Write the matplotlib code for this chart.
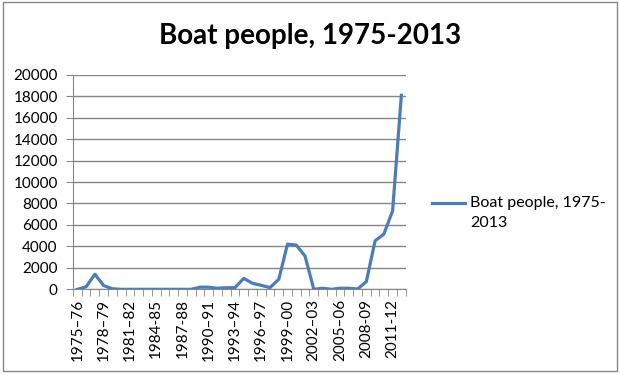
import matplotlib
matplotlib.use('Agg')
import matplotlib.pyplot as plt
from matplotlib.lines import Line2D
import numpy as np

# financial years 1975-76 .. 2012-13
years = ['1975–76', '1976–77', '1977–78', '1978–79', '1979–80', '1980–81',
         '1981–82', '1982–83', '1983–84', '1984-85', '1985–86', '1986–87',
         '1987-88', '1988–89', '1989–90', '1990–91', '1991–92', '1992–93',
         '1993–94', '1994–95', '1995–96', '1996–97', '1997–98', '1998–99',
         '1999–00', '2000–01', '2001–02', '2002–03', '2003–04', '2004–05',
         '2005–06', '2006–07', '2007–08', '2008-09', '2009–10', '2010–11',
         '2011-12', '2012–13']
arrivals = [0, 240, 1400, 350, 50, 0,
            0, 0, 0, 0, 0, 0,
            0, 0, 200, 200, 100, 150,
            150, 1020, 560, 370, 160, 930,
            4210, 4120, 3100, 0, 100, 0,
            100, 100, 30, 710, 4520, 5140,
            7310, 18070]

color = '#4A7EBB'
plt.rcParams['font.family'] = ['Lato', 'DejaVu Sans']

fig = plt.figure(figsize=(6.2, 3.75), dpi=100)
ax = fig.add_axes([0.1177, 0.2285, 0.5367, 0.5723])

x = np.arange(len(years))
ax.plot(x, arrivals, color=color, lw=2.3, solid_joinstyle='round')

ax.set_xlim(-0.5, len(years) - 0.5)
ax.set_ylim(0, 20000)
ax.set_yticks(np.arange(0, 20001, 2000))
ax.yaxis.grid(True, color='#868686', lw=1)
ax.set_axisbelow(True)

ax.set_xticks(x[::3])
ax.set_xticklabels(years[::3], rotation=90, fontsize=11)
ax.set_xticks(np.arange(-0.5, len(years), 1), minor=True)
ax.tick_params(axis='x', which='major', length=0, pad=7)
ax.tick_params(axis='x', which='minor', length=5, color='#868686', direction='out')
ax.tick_params(axis='y', length=5, color='#868686', labelsize=11, pad=6)

for s in ['top', 'right']:
    ax.spines[s].set_visible(False)
for s in ['left', 'bottom']:
    ax.spines[s].set_color('#868686')

fig.text(0.5, 0.905, 'Boat people, 1975-2013', ha='center', va='center',
         fontsize=20, fontweight='bold')

# legend, Excel style: key line level with the first text line
fig.add_artist(Line2D([0.696, 0.750], [0.4587, 0.4587], color=color, lw=2.3,
                      transform=fig.transFigure))
fig.text(0.758, 0.4587, 'Boat people, 1975-', ha='left', va='center', fontsize=11.5)
fig.text(0.758, 0.4053, '2013', ha='left', va='center', fontsize=11.5)

# chart border
fig.patches.append(plt.Rectangle((0.005, 0.01), 0.99, 0.985, transform=fig.transFigure,
                                 fill=False, edgecolor='#868686', lw=1))

fig.savefig('out.png', dpi=100)
